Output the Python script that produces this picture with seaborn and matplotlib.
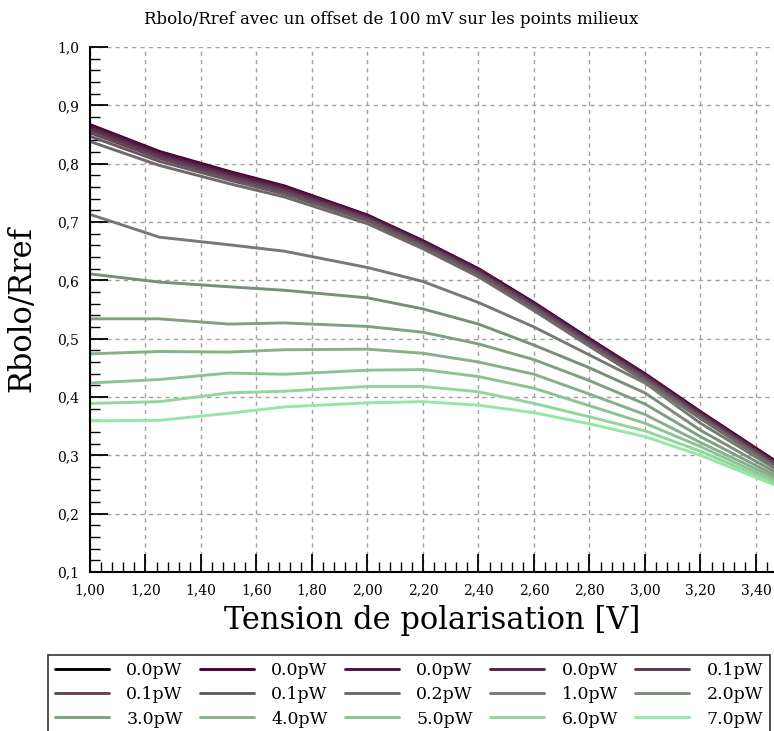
import numpy as np
import pandas as pd
import matplotlib
matplotlib.use("Agg")
import matplotlib.pyplot as plt
from matplotlib.ticker import MultipleLocator, FuncFormatter
import seaborn as sns

# tension de polarisation (V)
tension = [1.0, 1.25, 1.5, 1.7, 2.0, 2.2, 2.4, 2.6, 2.8, 3.0, 3.2, 3.5]

# puissances (legende)
puissances = ["0.0pW", "0.0pW", "0.0pW", "0.0pW", "0.1pW", "0.1pW", "0.1pW",
              "0.2pW", "1.0pW", "2.0pW", "3.0pW", "4.0pW", "5.0pW", "6.0pW", "7.0pW"]

# Rbolo/Rref, une liste par courbe (la noire est cachee sous la premiere violette)
r_00a = [0.866, 0.820, 0.786, 0.761, 0.711, 0.667, 0.619, 0.561, 0.499, 0.439, 0.374, 0.280]
r_00b = [0.867, 0.821, 0.787, 0.762, 0.712, 0.668, 0.620, 0.562, 0.500, 0.440, 0.375, 0.281]
r_00c = [0.865, 0.819, 0.785, 0.760, 0.711, 0.667, 0.619, 0.561, 0.499, 0.439, 0.374, 0.280]
r_00d = [0.862, 0.816, 0.782, 0.758, 0.709, 0.665, 0.617, 0.559, 0.497, 0.437, 0.372, 0.278]
r_01a = [0.858, 0.813, 0.779, 0.755, 0.707, 0.663, 0.615, 0.557, 0.495, 0.435, 0.370, 0.276]
r_01b = [0.853, 0.809, 0.776, 0.752, 0.705, 0.661, 0.613, 0.555, 0.493, 0.433, 0.368, 0.274]
r_01c = [0.847, 0.804, 0.772, 0.748, 0.702, 0.658, 0.610, 0.552, 0.490, 0.430, 0.366, 0.272]
r_02 = [0.838, 0.797, 0.766, 0.743, 0.697, 0.654, 0.606, 0.548, 0.487, 0.427, 0.363, 0.270]
r_10 = [0.713, 0.674, 0.661, 0.650, 0.622, 0.598, 0.562, 0.520, 0.472, 0.424, 0.355, 0.268]
r_20 = [0.611, 0.597, 0.589, 0.583, 0.570, 0.551, 0.525, 0.489, 0.450, 0.407, 0.343, 0.263]
r_30 = [0.534, 0.534, 0.525, 0.527, 0.521, 0.511, 0.491, 0.464, 0.428, 0.388, 0.332, 0.258]
r_40 = [0.474, 0.478, 0.477, 0.481, 0.482, 0.475, 0.460, 0.439, 0.405, 0.370, 0.322, 0.254]
r_50 = [0.424, 0.430, 0.441, 0.439, 0.446, 0.447, 0.435, 0.415, 0.385, 0.355, 0.315, 0.249]
r_60 = [0.389, 0.392, 0.407, 0.410, 0.418, 0.418, 0.409, 0.389, 0.366, 0.342, 0.307, 0.246]
r_70 = [0.359, 0.360, 0.372, 0.383, 0.390, 0.392, 0.386, 0.373, 0.354, 0.332, 0.300, 0.243]

courbes = [r_00a, r_00b, r_00c, r_00d, r_01a, r_01b, r_01c, r_02,
           r_10, r_20, r_30, r_40, r_50, r_60, r_70]

sns.set_style("white")
plt.rcParams['font.family'] = ['DejaVu Serif']
plt.rcParams['text.color'] = 'black'
plt.rcParams['axes.labelcolor'] = 'black'
plt.rcParams['xtick.color'] = 'black'
plt.rcParams['ytick.color'] = 'black'

# noir puis degrade violet -> vert clair
couleurs = ["#000000"] + sns.blend_palette(["#4b0036", "#98e6a5"], len(courbes) - 1)

fig = plt.figure(figsize=(7.74, 7.31), dpi=100)
ax = fig.add_axes([90 / 774, 1 - 572 / 731, 1 - 90 / 774, (572 - 47) / 731])

for i, (vals, lab) in enumerate(zip(courbes, puissances)):
    df = pd.DataFrame({"V": tension, "R": vals})
    sns.lineplot(data=df, x="V", y="R", ax=ax, color=couleurs[i],
                 linewidth=2.1, label=lab, legend=False)

ax.set_xlim(1.0, 3.465)
ax.set_ylim(0.1, 1.0)

ax.xaxis.set_major_locator(MultipleLocator(0.2))
ax.xaxis.set_minor_locator(MultipleLocator(0.04))
ax.yaxis.set_major_locator(MultipleLocator(0.1))
ax.yaxis.set_minor_locator(MultipleLocator(0.02))
ax.xaxis.set_major_formatter(FuncFormatter(lambda v, p: f"{v:.2f}".replace(".", ",")))
ax.yaxis.set_major_formatter(FuncFormatter(lambda v, p: f"{v:.1f}".replace(".", ",")))

ax.tick_params(which="major", direction="in", length=13, width=1.3, labelsize=10, pad=8)
ax.tick_params(which="minor", direction="in", length=7, width=1.0)
ax.tick_params(axis="x", which="both", bottom=True, top=False)
ax.tick_params(axis="y", which="both", left=True, right=False)

ax.grid(True, which="major", linestyle=(0, (3, 3)), color="#a0a0a0", linewidth=1.0)
for s in ["top", "right"]:
    ax.spines[s].set_visible(False)
for s in ["left", "bottom"]:
    ax.spines[s].set_color("black")
    ax.spines[s].set_linewidth(1.5)

ax.set_xlabel("Tension de polarisation [V]", fontsize=22, labelpad=6)
ax.set_ylabel("Rbolo/Rref", fontsize=22, labelpad=14)

fig.text(391 / 774, 1 - 19 / 731, "Rbolo/Rref avec un offset de 100 mV sur les points milieux",
         ha="center", va="center", fontsize=12)

# legende remplie ligne par ligne (5 colonnes)
handles, labels = ax.get_legend_handles_labels()
ncol = 5
nrow = 3
ordre = [r * ncol + c for c in range(ncol) for r in range(nrow)]
handles = [handles[k] for k in ordre]
labels = [labels[k] for k in ordre]
leg = fig.legend(handles, labels, ncol=ncol, loc="upper left",
                 bbox_to_anchor=(48 / 774, 1 - 655 / 731), fontsize=12.5,
                 frameon=True, fancybox=False, edgecolor="black",
                 handlelength=3.1, handletextpad=1.0, columnspacing=1.0,
                 labelspacing=0.42, borderaxespad=0)
leg.get_frame().set_linewidth(1.2)

fig.savefig("out.png", dpi=100)
